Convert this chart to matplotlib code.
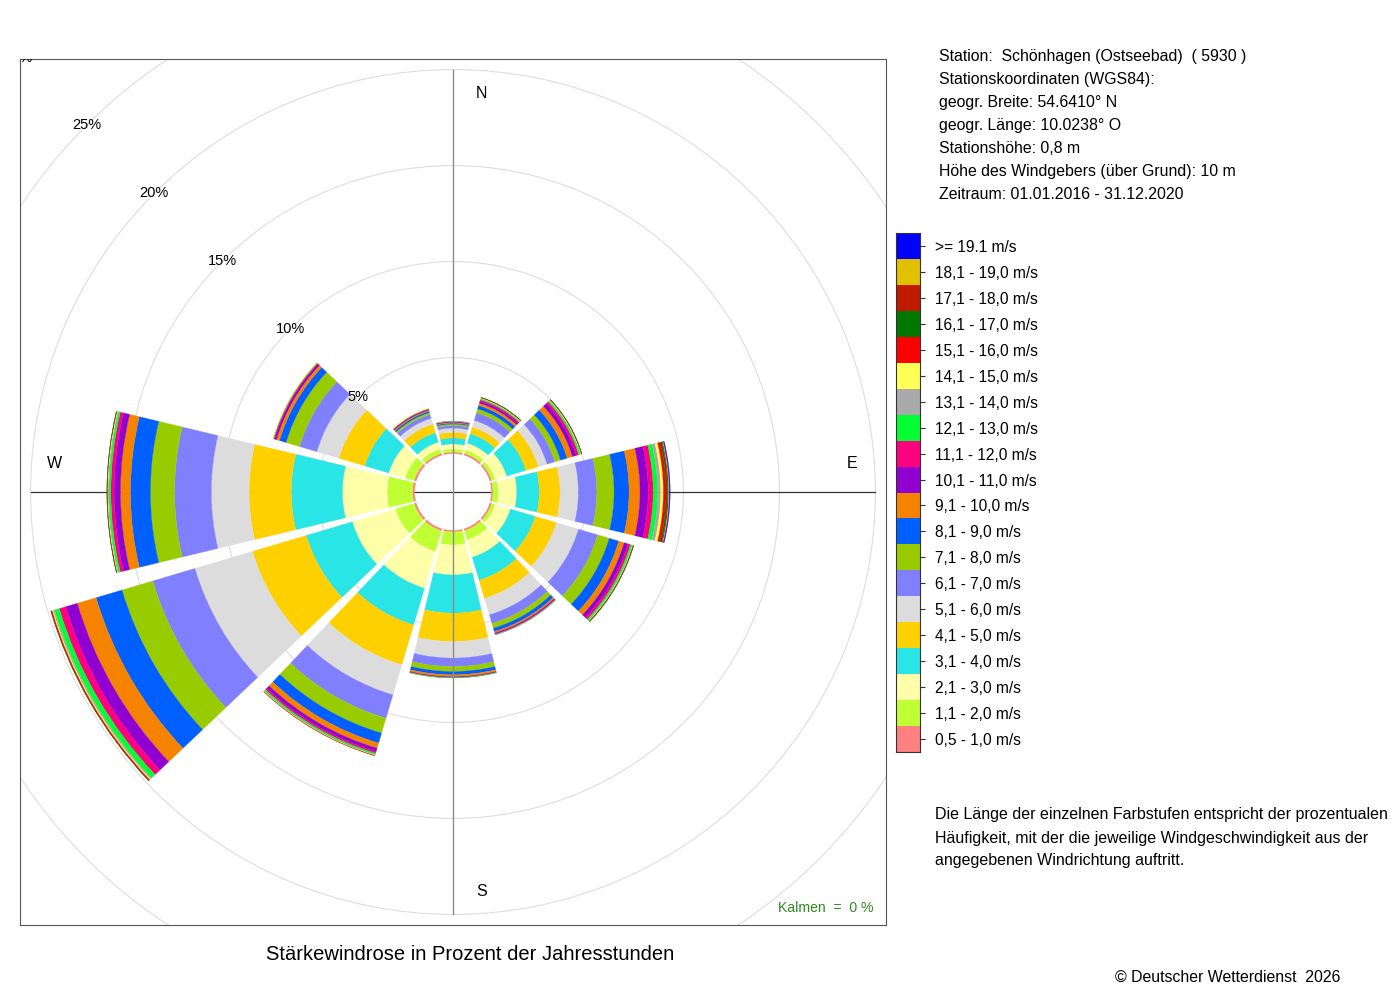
import matplotlib
matplotlib.use("Agg")
import matplotlib.pyplot as plt
from matplotlib.patches import Wedge, Circle
import numpy as np

plt.rcParams['font.family'] = ['Liberation Sans', 'DejaVu Sans']

# Windrichtungen (Sektormitte, Grad von Nord)
richtung = [0, 30, 60, 90, 120, 150, 180, 210, 240, 270, 300, 330]

# Geschwindigkeitsklassen
klassen = ["0,5 - 1,0 m/s", "1,1 - 2,0 m/s", "2,1 - 3,0 m/s", "3,1 - 4,0 m/s",
           "4,1 - 5,0 m/s", "5,1 - 6,0 m/s", "6,1 - 7,0 m/s", "7,1 - 8,0 m/s",
           "8,1 - 9,0 m/s", "9,1 - 10,0 m/s", "10,1 - 11,0 m/s", "11,1 - 12,0 m/s",
           "12,1 - 13,0 m/s", "13,1 - 14,0 m/s", "14,1 - 15,0 m/s", "15,1 - 16,0 m/s",
           "16,1 - 17,0 m/s", "17,1 - 18,0 m/s", "18,1 - 19,0 m/s", ">= 19.1 m/s"]

farben = ["#ff8080", "#bfff33", "#ffffaa", "#2ae5e5", "#ffd000", "#dcdcdc",
          "#8080ff", "#99cc00", "#0060ff", "#f58300", "#9000d0", "#ff007f",
          "#00ff33", "#a9a9a9", "#ffff55", "#ff0000", "#007800", "#c01a00",
          "#e0c000", "#0000ff"]

# Haeufigkeit in % je Sektor und Klasse
s000 = [0.08, 0.16, 0.26, 0.32, 0.29, 0.22, 0.13, 0.08, 0.05, 0.04, 0.03, 0.02, 0.01, 0.01, 0, 0, 0, 0, 0, 0]
s030 = [0.10, 0.19, 0.36, 0.52, 0.36, 0.36, 0.42, 0.21, 0.18, 0.13, 0.10, 0.08, 0.05, 0.03, 0.02, 0.02, 0.01, 0, 0, 0]
s060 = [0.10, 0.19, 0.63, 1.04, 0.68, 0.47, 0.42, 0.31, 0.36, 0.29, 0.21, 0.13, 0.08, 0.03, 0.03, 0.02, 0.01, 0, 0, 0]
s090 = [0.08, 0.28, 0.96, 1.18, 1.08, 0.95, 0.96, 0.90, 0.78, 0.57, 0.43, 0.26, 0.23, 0.16, 0.14, 0.14, 0.08, 0.05, 0.04, 0.04]
s120 = [0.10, 0.19, 0.83, 1.35, 1.15, 1.20, 1.04, 0.63, 0.52, 0.29, 0.21, 0.13, 0.08, 0.04, 0.02, 0.02, 0.02, 0, 0, 0]
s150 = [0.10, 0.50, 0.94, 1.25, 0.99, 0.89, 0.47, 0.26, 0.18, 0.08, 0.05, 0.03, 0.02, 0.01, 0, 0, 0, 0, 0, 0]
s180 = [0.08, 0.68, 1.56, 1.99, 1.48, 0.86, 0.44, 0.26, 0.17, 0.10, 0.03, 0.02, 0.02, 0, 0, 0, 0, 0, 0, 0]
s210 = [0.11, 1.13, 1.99, 1.99, 2.17, 1.63, 1.27, 0.81, 0.54, 0.28, 0.18, 0.09, 0.08, 0.03, 0.02, 0.01, 0, 0, 0, 0]
s240 = [0.11, 1.02, 2.34, 2.50, 2.92, 3.13, 2.29, 1.67, 1.41, 1.02, 0.63, 0.35, 0.26, 0.08, 0.05, 0.04, 0.02, 0.01, 0, 0]
s270 = [0.11, 1.32, 2.33, 2.66, 2.20, 1.97, 1.91, 1.26, 1.04, 0.52, 0.33, 0.17, 0.10, 0.05, 0.03, 0.02, 0.01, 0, 0, 0]
s300 = [0.11, 0.49, 0.89, 1.30, 1.41, 1.20, 0.94, 0.73, 0.36, 0.16, 0.10, 0.05, 0.03, 0.01, 0.01, 0, 0, 0, 0, 0]
s330 = [0.10, 0.24, 0.36, 0.52, 0.47, 0.31, 0.21, 0.10, 0.08, 0.05, 0.04, 0.03, 0.02, 0.01, 0.01, 0, 0, 0, 0, 0]
sektoren = [s000, s030, s060, s090, s120, s150, s180, s210, s240, s270, s300, s330]

ringe = [5, 10, 15, 20, 25, 30]

info = ["Station:  Schönhagen (Ostseebad)  ( 5930 )",
        "Stationskoordinaten (WGS84):",
        "geogr. Breite: 54.6410° N",
        "geogr. Länge: 10.0238° O",
        "Stationshöhe: 0,8 m",
        "Höhe des Windgebers (über Grund): 10 m",
        "Zeitraum: 01.01.2016 - 31.12.2020"]

hinweis = ["Die Länge der einzelnen Farbstufen entspricht der prozentualen",
           "Häufigkeit, mit der die jeweilige Windgeschwindigkeit aus der",
           "angegebenen Windrichtung auftritt."]

LOCH = 2.0          # innerer Kreis (in %)
BREITE = 27.0       # Sektorbreite in Grad
lim = 433 / 19.2

fig = plt.figure(figsize=(14, 10), dpi=100)
ax = fig.add_axes([20/1400, 75/1000, 866/1400, 866/1000])
ax.set_xlim(-lim, lim)
ax.set_ylim(-lim, lim)
ax.set_xticks([])
ax.set_yticks([])
for sp in ax.spines.values():
    sp.set_color("#555555")
    sp.set_linewidth(0.8)

# Gitterkreise
for p in ringe:
    ax.add_patch(Circle((0, 0), LOCH + p, fill=False, color="#dddddd", lw=0.8, zorder=1))
    d = (LOCH + p) * np.sqrt(0.5)
    ax.text(-d, d, f"{p}%", ha="center", va="center", fontsize=10.5, clip_on=True, zorder=6)

# Achsen
ax.plot([-(LOCH + 20), LOCH + 20], [0, 0], color="#333333", lw=0.9, zorder=1)

# Sektoren
for c, werte in zip(richtung, sektoren):
    unten = LOCH
    for v, col in zip(werte, farben):
        if v <= 0:
            continue
        ax.add_patch(Wedge((0, 0), unten + v, 90 - c - BREITE/2, 90 - c + BREITE/2,
                           width=v, facecolor=col, edgecolor=col, lw=0.2, zorder=2))
        unten += v

ax.plot([0, 0], [-(LOCH + 20), LOCH + 20], color="#8c8c8c", lw=1.0, zorder=5)

ax.text(1.5, 20.73, "N", ha="center", va="center", fontsize=11.5)
ax.text(1.5, -20.83, "S", ha="center", va="center", fontsize=11.5)
ax.text(-20.78, 1.46, "W", ha="center", va="center", fontsize=11.5)
ax.text(20.78, 1.46, "E", ha="center", va="center", fontsize=11.5)
ax.text(0.986, 0.0196, "Kalmen  =  0 %", transform=ax.transAxes, ha="right",
        va="center", color="#2e8b22", fontsize=10.1)

fig.text(470/1400, 1 - 955/1000, "Stärkewindrose in Prozent der Jahresstunden",
         ha="center", va="center", fontsize=14.5)

for i, t in enumerate(info):
    fig.text(939/1400, 1 - (56 + 23.1*i)/1000, t, ha="left", va="center", fontsize=11.4)

for i, t in enumerate(hinweis):
    fig.text(935/1400, 1 - (815 + 23*i)/1000, t, ha="left", va="center", fontsize=11.5)

fig.text(1115/1400, 1 - 977/1000, "© Deutscher Wetterdienst  2026", ha="left",
         va="center", fontsize=11.45)

# Farblegende
lax = fig.add_axes([896/1400, 248/1000, 24/1400, 519/1000])
n = len(klassen)
lax.bar(np.zeros(n), np.ones(n), bottom=np.arange(n), width=1, align="edge", color=farben)
lax.set_xlim(0, 1)
lax.set_ylim(0, n)
lax.set_xticks([])
lax.set_yticks(np.arange(n) + 0.5)
lax.set_yticklabels(klassen)
lax.yaxis.tick_right()
lax.tick_params(axis="y", length=3.6, width=0.8, color="#333333", pad=7, labelsize=11.2)
for sp in lax.spines.values():
    sp.set_color("#333333")
    sp.set_linewidth(0.8)

fig.savefig("out.png", dpi=100)
